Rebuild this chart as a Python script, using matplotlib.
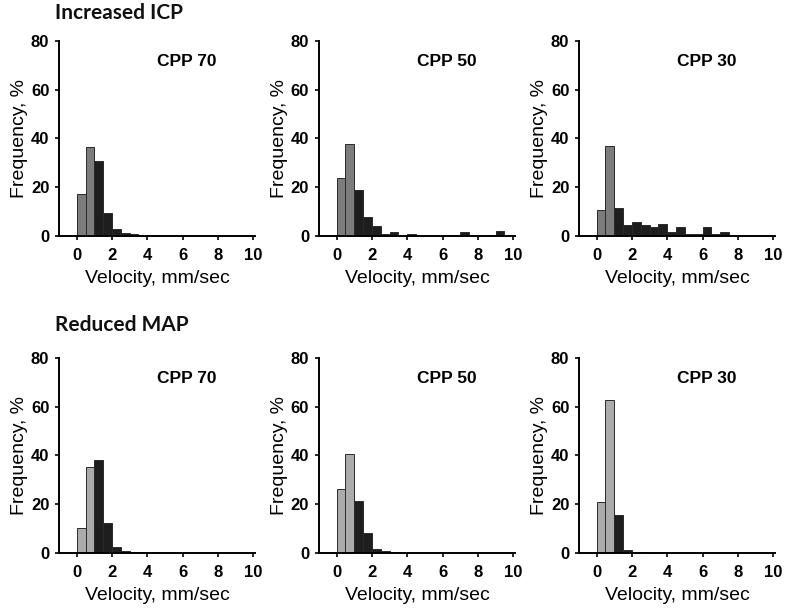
import numpy as np
import matplotlib
matplotlib.use('Agg')
import matplotlib.pyplot as plt

# ---- data (frequency %, bins of 0.5 mm/sec from 0 to 10) ----
bin_edges = np.arange(0, 10.5, 0.5)
row_titles = ['Increased ICP', 'Reduced MAP']
cpp_labels = ['CPP 70', 'CPP 50', 'CPP 30']
x_ticks = [0, 2, 4, 6, 8, 10]
y_ticks = [0, 20, 40, 60, 80]

icp_cpp70 = [17.4, 36.5, 30.7, 9.4, 2.7, 1.1, 0.8, 0.6, 0.6, 0.1,
             0, 0, 0, 0, 0, 0, 0, 0, 0, 0]
icp_cpp50 = [23.6, 37.8, 18.8, 7.6, 4.0, 1.0, 1.6, 0.5, 1.0, 0.1,
             0, 0, 0.4, 0.2, 1.6, 0.3, 0, 0.3, 2.0, 0]
icp_cpp30 = [10.6, 37.1, 11.5, 4.7, 5.6, 4.7, 3.6, 5.0, 1.7, 3.6,
             1.0, 0.8, 3.6, 0.7, 1.5, 0, 0, 0, 0, 0]
map_cpp70 = [10.2, 35.3, 38.3, 12.4, 2.6, 1.0, 0.5, 0.4, 0.3, 0.1,
             0.1, 0, 0, 0, 0, 0, 0, 0, 0, 0]
map_cpp50 = [26.1, 40.7, 21.2, 8.0, 1.5, 0.8, 0.6, 0.4, 0.1, 0,
             0, 0, 0, 0, 0, 0, 0, 0, 0, 0]
map_cpp30 = [20.9, 62.6, 15.5, 1.1, 0.3, 0.3, 0, 0, 0, 0,
             0, 0, 0, 0, 0, 0, 0, 0, 0, 0]

rows = [[icp_cpp70, icp_cpp50, icp_cpp30],
        [map_cpp70, map_cpp50, map_cpp30]]

# ---- styles ----
light_c = ['#7c7c7c', '#ababab']  # first two bins, per row
dark_c = '#1e1e1e'
edge_c = '#2a2a2a'
n_light = 2

lefts = [0.075, 0.4053, 0.7357]
bottoms = [0.6125, 0.092]
ax_w, ax_h = 0.249, 0.3202
title_y = [0.978, 0.466]

plt.rcParams['font.family'] = ['Liberation Sans', 'DejaVu Sans']

fig = plt.figure(figsize=(7.87, 6.09), dpi=100)

for r, row in enumerate(rows):
    fig.text(0.07, title_y[r], row_titles[r], fontsize=15,
             fontfamily='Lato', fontweight='bold',
             ha='left', va='center', color='#111111')
    for c, vals in enumerate(row):
        ax = fig.add_axes([lefts[c], bottoms[r], ax_w, ax_h])
        cols = [light_c[r] if i < n_light else dark_c for i in range(len(vals))]
        ax.bar(bin_edges[:-1], vals, width=0.5, align='edge', color=cols,
               edgecolor=edge_c, linewidth=0.7)
        ax.set_xlim(-1.0, 10.1)
        ax.set_ylim(0, 80)
        ax.set_xticks(x_ticks)
        ax.set_yticks(y_ticks)
        for s in ['top', 'right']:
            ax.spines[s].set_visible(False)
        for s in ['left', 'bottom']:
            ax.spines[s].set_linewidth(1.4)
        ax.tick_params(axis='x', direction='out', width=1.2, length=3,
                       labelsize=12, pad=6)
        ax.tick_params(axis='y', direction='out', width=1.2, length=3,
                       labelsize=12, pad=4)
        for lab in ax.get_xticklabels() + ax.get_yticklabels():
            lab.set_fontweight('bold')
        ax.set_xlabel('Velocity, mm/sec', fontsize=14, labelpad=5)
        ax.set_ylabel('Frequency, %', fontsize=14, labelpad=2)
        ax.text(6.25, 71.5, cpp_labels[c], fontsize=12.5, fontweight='bold',
                ha='center', va='center')

fig.savefig('out.png', dpi=100)
